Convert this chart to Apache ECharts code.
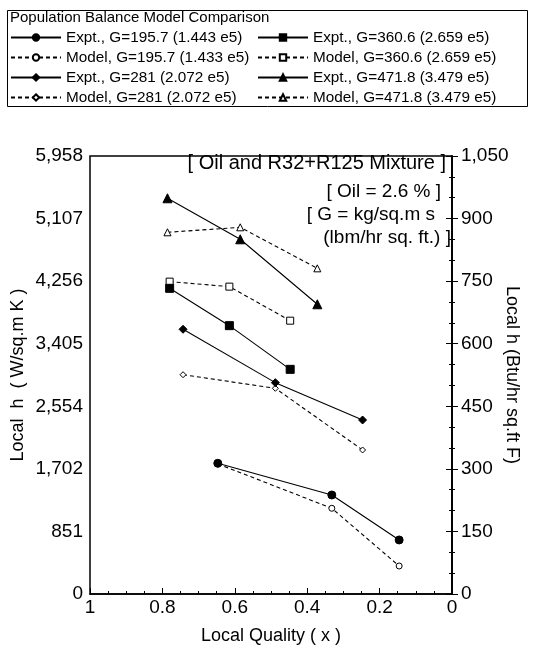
<!DOCTYPE html>
<html>
<head>
<meta charset="utf-8">
<script src="https://cdn.jsdelivr.net/npm/echarts@6/dist/echarts.min.js"></script>
<style>
html,body{margin:0;padding:0;background:#fff;}
#c{width:535px;height:660px;}
</style>
</head>
<body>
<div id="c"></div>
<script>
// ---- data ----
var xTickLabels = ["1", "0.8", "0.6", "0.4", "0.2", "0"];
var yLeftLabels = ["0", "851", "1,702", "2,554", "3,405", "4,256", "5,107", "5,958"];
var yRightLabels = ["0", "150", "300", "450", "600", "750", "900", "1,050"];

var q195 = [0.647, 0.332, 0.146];
var expt195 = [1778, 1347, 735];
var model195 = [1770, 1166, 381];

var q281 = [0.743, 0.488, 0.247];
var expt281 = [3601, 2875, 2367];
var model281 = [2983, 2798, 1959];

var q360 = [0.780, 0.615, 0.447];
var expt360 = [4158, 3650, 3056];
var model360 = [4249, 4181, 3718];

var q471 = [0.786, 0.585, 0.372];
var expt471 = [5383, 4825, 3941];
var model471 = [4920, 4988, 4430];

var names = [
  "Expt., G=195.7 (1.443 e5)", "Model, G=195.7 (1.433 e5)",
  "Expt., G=281 (2.072 e5)", "Model, G=281 (2.072 e5)",
  "Expt., G=360.6 (2.659 e5)", "Model, G=360.6 (2.659 e5)",
  "Expt., G=471.8 (3.479 e5)", "Model, G=471.8 (3.479 e5)"
];

var yMaxLeft = 5958, yMaxRight = 1050;
var yStep = yMaxLeft / 7;

function pairs(xs, ys) { return xs.map(function (x, i) { return [x, ys[i]]; }); }

var FONT = "Liberation Sans";

function mk(name, xs, ys, symbol, size, dashed, z) {
  return {
    name: name, type: 'line', xAxisIndex: 0, yAxisIndex: 0,
    data: pairs(xs, ys),
    symbol: symbol, symbolSize: size, showSymbol: true,
    lineStyle: { color: '#000', width: 1.1, type: dashed ? [4, 3] : 'solid' },
    itemStyle: { color: dashed ? '#fff' : '#000', borderColor: '#000', borderWidth: 1 },
    z: z, animation: false, silent: true
  };
}

var series = [
  mk(names[1], q195, model195, 'circle', 6, true, 2),
  mk(names[0], q195, expt195, 'circle', 8, false, 3),
  mk(names[3], q281, model281, 'diamond', 6, true, 2),
  mk(names[2], q281, expt281, 'diamond', 8, false, 3),
  mk(names[5], q360, model360, 'rect', 7, true, 2),
  mk(names[4], q360, expt360, 'rect', 8, false, 3),
  mk(names[7], q471, model471, 'triangle', 7, true, 2),
  mk(names[6], q471, expt471, 'triangle', 9, false, 3),
  { type: 'line', yAxisIndex: 1, data: [], silent: true }
];

var chart = echarts.init(document.getElementById('c'), null, { renderer: 'canvas' });

var legendCommon = {
  orient: 'vertical', itemWidth: 50, itemHeight: 8, itemGap: 5,
  textStyle: { fontFamily: FONT, fontSize: 15.3, color: '#000', padding: [0, 0, 0, 0] },
  selectedMode: false, padding: 0
};

var option = {
  backgroundColor: '#fff',
  animation: false,
  textStyle: { fontFamily: FONT },
  graphic: [
    { type: 'rect', left: 7, top: 10, shape: { width: 520, height: 96 },
      style: { fill: 'transparent', stroke: '#000', lineWidth: 1 } },
    { type: 'text', left: 10, top: 10,
      style: { text: 'Population Balance Model Comparison', font: '15px "Liberation Sans"', fill: '#000' } },
    { type: 'text', right: 89, top: 153,
      style: { text: '[ Oil and R32+R125 Mixture ]', font: '20px "Liberation Sans"', fill: '#000' } },
    { type: 'text', right: 94, top: 182,
      style: { text: '[ Oil = 2.6 % ]', font: '19px "Liberation Sans"', fill: '#000' } },
    { type: 'text', right: 100, top: 205,
      style: { text: '[ G = kg/sq.m s', font: '19px "Liberation Sans"', fill: '#000' } },
    { type: 'text', right: 84, top: 228,
      style: { text: '(lbm/hr sq. ft.) ]', font: '19px "Liberation Sans"', fill: '#000' } }
  ],
  legend: [
    Object.assign({}, legendCommon, { left: 10, top: 30, data: [names[0], names[1], names[2], names[3]] }),
    Object.assign({}, legendCommon, { left: 257, top: 30, data: [names[4], names[5], names[6], names[7]] })
  ],
  grid: { left: 90, right: 83, top: 156, bottom: 66, show: true, borderColor: '#000', borderWidth: 1.5,
          backgroundColor: 'transparent', outerBoundsMode: 'none', containLabel: false },
  xAxis: {
    type: 'value', min: 0, max: 1, interval: 0.2, inverse: true,
    name: 'Local Quality ( x )', nameLocation: 'middle', nameGap: 33, nameMoveOverlap: false,
    nameTextStyle: { fontFamily: FONT, fontSize: 18, color: '#000' },
    axisLine: { show: true, lineStyle: { color: '#000', width: 1.5 } },
    axisTick: { show: true, inside: true, length: 6, lineStyle: { color: '#000' } },
    minorTick: { show: true, splitNumber: 4, length: 3, lineStyle: { color: '#000' } },
    splitLine: { show: false },
    axisLabel: { fontFamily: FONT, fontSize: 19, color: '#000', margin: 4,
      formatter: function (v) { return xTickLabels[Math.round((1 - v) / 0.2)]; } }
  },
  yAxis: [
    {
      type: 'value', min: 0, max: yMaxLeft, interval: yStep, position: 'left',
      name: 'Local  h  ( W/sq.m K )', nameLocation: 'middle', nameGap: 63, nameRotate: 90, nameMoveOverlap: false,
      nameTextStyle: { fontFamily: FONT, fontSize: 18, color: '#000' },
      axisLine: { show: true, lineStyle: { color: '#000', width: 1.5 } },
      axisTick: { show: true, inside: true, length: 6, lineStyle: { color: '#000' } },
      minorTick: { show: true, splitNumber: 3, length: 3, lineStyle: { color: '#000' } },
      splitLine: { show: false },
      axisLabel: { fontFamily: FONT, fontSize: 19, color: '#000', margin: 7,
        formatter: function (v) { return yLeftLabels[Math.round(v / yStep)]; } }
    },
    {
      type: 'value', min: 0, max: yMaxRight, interval: 150, position: 'right',
      name: 'Local h (Btu/hr sq.ft F)', nameLocation: 'middle', nameGap: 51, nameRotate: -90, nameMoveOverlap: false,
      nameTextStyle: { fontFamily: FONT, fontSize: 18, color: '#000' },
      axisLine: { show: true, lineStyle: { color: '#000', width: 1.5 } },
      axisTick: { show: true, inside: true, length: 6, lineStyle: { color: '#000' } },
      minorTick: { show: true, splitNumber: 3, length: 3, lineStyle: { color: '#000' } },
      splitLine: { show: false },
      axisLabel: { fontFamily: FONT, fontSize: 19, color: '#000', margin: 9,
        formatter: function (v) { return yRightLabels[Math.round(v / 150)]; } }
    }
  ],
  series: series
};
chart.setOption(option);
</script>
</body>
</html>
